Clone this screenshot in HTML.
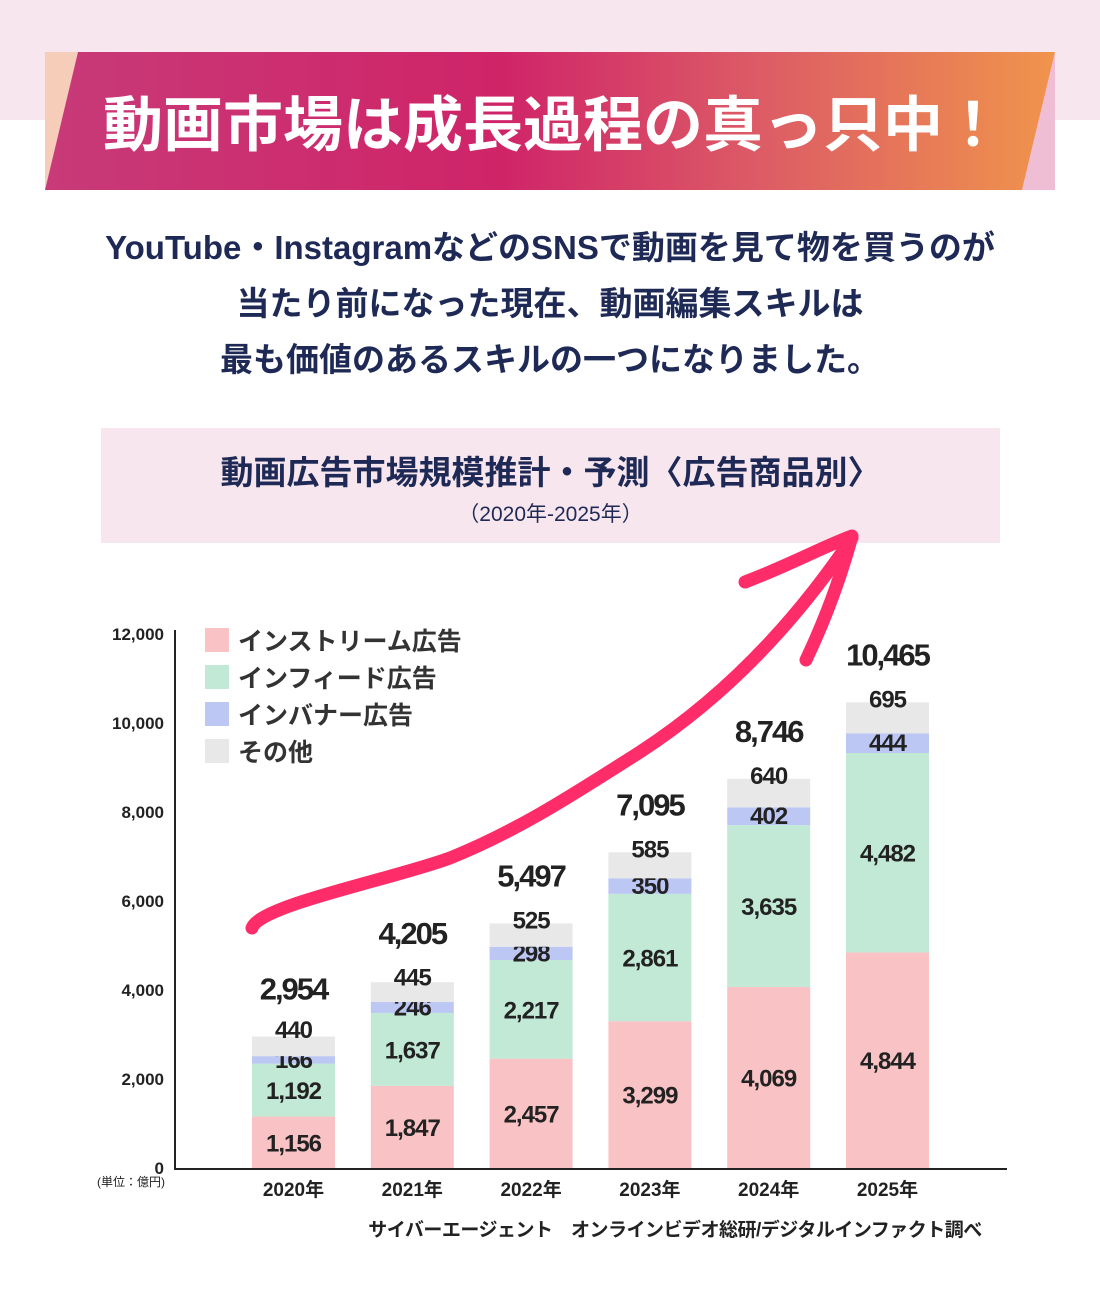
<!DOCTYPE html>
<html><head><meta charset="utf-8"><style>
body{margin:0;width:1100px;height:1309px;position:relative;background:#fff;font-family:"Liberation Sans","Noto Sans CJK JP",sans-serif;overflow:hidden}
.abs{position:absolute}
</style></head><body>
<div class="abs" style="left:0;top:0;width:1100px;height:120px;background:#f8e6ee"></div>
<svg class="abs" style="left:0;top:0" width="1100" height="200">
<defs><linearGradient id="g" x1="0" x2="1"><stop offset="0" stop-color="#c83a78"/><stop offset="0.45" stop-color="#cf2468"/><stop offset="0.7" stop-color="#dc5a66"/><stop offset="1" stop-color="#f0944c"/></linearGradient></defs>
<polygon points="45,52 78,52 45,190" fill="#f6cdb8"/>
<polygon points="1055,52 1055,190 1022,190" fill="#efbdd4"/>
<polygon points="78,52 1055,52 1022,190 45,190" fill="url(#g)"/>
<text x="553" y="146" text-anchor="middle" fill="#fff" font-size="60" font-weight="bold" font-family="Liberation Sans,Noto Sans CJK JP,sans-serif">動画市場は成長過程の真っ只中！</text>
</svg>
<div class="abs" style="left:0;top:220px;width:1100px;text-align:center;color:#1e2a55;font-size:33px;line-height:56px;font-weight:bold">YouTube・InstagramなどのSNSで動画を見て物を買うのが<br>当たり前になった現在、動画編集スキルは<br>最も価値のあるスキルの一つになりました。</div>
<div class="abs" style="left:101px;top:428px;width:899px;height:115px;background:#f7e6ee;text-align:center;color:#1e2a55">
<div style="font-size:33px;font-weight:bold;margin-top:18px">動画広告市場規模推計・予測〈広告商品別〉</div>
<div style="font-size:21px;margin-top:4px">（2020年-2025年）</div></div>
<svg id="chart" class="abs" style="left:0;top:0" width="1100" height="1309"></svg>
<script>
const years=["2020年","2021年","2022年","2023年","2024年","2025年"];
const instream=[1156,1847,2457,3299,4069,4844];
const infeed=[1192,1637,2217,2861,3635,4482];
const banner=[166,246,298,350,402,444];
const other=[440,445,525,585,640,695];
const totals=[2954,4205,5497,7095,8746,10465];
const yTicks=[0,2000,4000,6000,8000,10000,12000];
const legendLabels=["インストリーム広告","インフィード広告","インバナー広告","その他"];
const colors=["#f9c3c5","#c2e8d6","#bcc8f3","#e8e8e8"];
const NS="http://www.w3.org/2000/svg";
const svg=document.getElementById('chart');
const y=v=>1168-v*534/12000;
const x=i=>252+i*118.8;
const BW=83;
function mk(t,a,txt){const e=document.createElementNS(NS,t);for(const k in a)e.setAttribute(k,a[k]);if(txt!==undefined)e.textContent=txt;svg.appendChild(e);return e;}
const fam="Liberation Sans,Noto Sans CJK JP,sans-serif";
yTicks.forEach(t=>{
 const e=mk('text',{x:164,y:y(t)+6,'text-anchor':'end','font-size':17,'font-weight':'bold',fill:'#222','font-family':fam},t.toLocaleString('en-US'));
 
 
});
let u=mk('text',{x:165,y:1186,'text-anchor':'end','font-size':12,fill:'#222','font-family':fam},'(単位：億円)');


const series=[instream,infeed,banner,other];
years.forEach((yr,i)=>{
 let base=0;
 let blueC=0;
 series.forEach((s,k)=>{
  const v=s[i];
  const r=mk('rect',{x:x(i),y:y(base+v),width:BW,height:y(base)-y(base+v),fill:colors[k]});
  
  
  let ly=(y(base)+y(base+v))/2+9;
  if(k==2){blueC=(y(base)+y(base+v))/2;ly=blueC+8;}
  if(k==3) ly=Math.min(y(base+v)+5,blueC-22);
  const t=mk('text',{x:x(i)+BW/2,y:ly,'text-anchor':'middle','font-size':24,'font-weight':'bold',fill:'#222','letter-spacing':'-1','font-family':fam},v.toLocaleString('en-US'));
  
  
  base+=v;
 });
 const tt=mk('text',{x:x(i)+BW/2,y:y(totals[i])-37,'text-anchor':'middle','font-size':31,'font-weight':'bold',fill:'#222','letter-spacing':'-2','font-family':fam},totals[i].toLocaleString('en-US'));
 
 
 const xl=mk('text',{x:x(i)+BW/2,y:1196,'text-anchor':'middle','font-size':19,'font-weight':'bold',fill:'#222','font-family':fam},yr);
 
 
});
let ax=mk('line',{x1:175,y1:630,x2:175,y2:1169,stroke:'#222','stroke-width':2});


let bx=mk('line',{x1:174,y1:1169,x2:1007,y2:1169,stroke:'#222','stroke-width':2});


legendLabels.forEach((l,k)=>{
 const r=mk('rect',{x:205,y:628+k*37,width:24,height:24,fill:colors[k]});
 
 
 const t=mk('text',{x:238,y:650+k*37,'font-size':25,'font-weight':'bold',fill:'#333','font-family':fam},l);
 
 
});
const src=mk('text',{x:675,y:1236,'text-anchor':'middle','font-size':19,'font-weight':'bold',fill:'#222','font-family':fam,'letter-spacing':'-0.5'},'サイバーエージェント　オンラインビデオ総研/デジタルインファクト調べ');


const ar=mk('path',{d:'M252,928 C260,905 390,880 450,858 C520,830 580,790 640,752 C720,700 790,630 852,538 M745,582 C790,565 820,548 852,536 C840,580 825,620 806,660',fill:'none',stroke:'#fe2c68','stroke-width':13,'stroke-linecap':'round','stroke-linejoin':'round'});


</script>
</body></html>
